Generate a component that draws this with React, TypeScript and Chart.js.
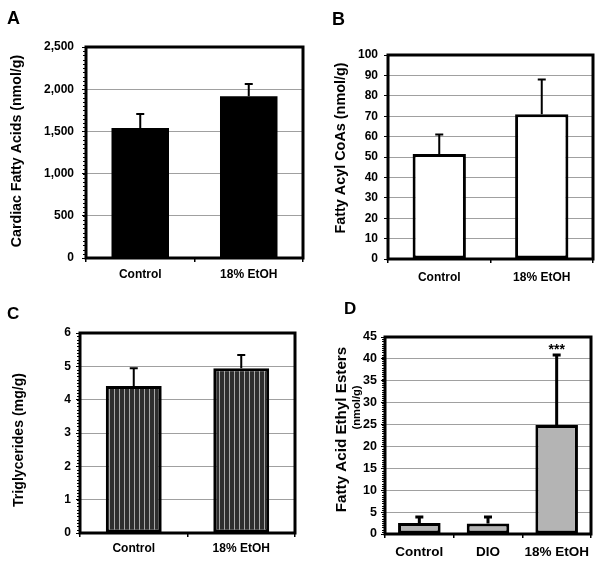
import React, { useEffect, useRef } from 'react';
import { Chart, registerables } from 'chart.js';

Chart.register(...registerables);

const FONT = '"Liberation Sans", Arial, Helvetica, sans-serif';

// ---- data ----
const groupsTwo = ['Control', '18% EtOH'];
const groupsThree = ['Control', 'DIO', '18% EtOH'];

const fattyAcids = [1540, 1915];
const fattyAcidsErr = [166, 147];

const acylCoAs = [51.5, 71];
const acylCoAsErr = [9.5, 17];

const triglycerides = [4.41, 4.94];
const triglyceridesErr = [0.53, 0.4];

const ethylEsters = [2.5, 2.4, 24.9];
const ethylEstersErr = [1.4, 1.5, 16];

const W = 600;
const H = 566;

type Title = { text: string; x: number; y: number; size: number };

type Panel = {
  letter: string;
  letterX: number;
  letterY: number;
  letterSize: number;
  labels: string[];
  values: number[];
  errors: number[];
  fill: 'black' | 'white' | 'stripes' | 'gray';
  box: [number, number, number, number];
  padLeft: number;
  yMax: number;
  yStep: number;
  commas: boolean;
  tickSize: number;
  catSize: number;
  yPad: number;
  xPad: number;
  catPct: number;
  titles: Title[];
  minor: boolean;
  star?: string;
  errLW: number;
};

const panels: Panel[] = [
  {
    letter: 'A', letterX: 7, letterY: 9, letterSize: 18,
    labels: groupsTwo, values: fattyAcids, errors: fattyAcidsErr,
    fill: 'black', box: [86, 47, 303, 258], padLeft: 0,
    yMax: 2500, yStep: 500, commas: true, tickSize: 12, catSize: 12,
    yPad: 8, xPad: 5, catPct: 0.53,
    titles: [{ text: 'Cardiac Fatty Acids (nmol/g)', x: 20.5, y: 151, size: 14.2 }],
    minor: true, errLW: 2,
  },
  {
    letter: 'B', letterX: 332, letterY: 10, letterSize: 18,
    labels: groupsTwo, values: acylCoAs, errors: acylCoAsErr,
    fill: 'white', box: [388, 55, 593, 259], padLeft: 300,
    yMax: 100, yStep: 10, commas: false, tickSize: 12, catSize: 12,
    yPad: 6, xPad: 7, catPct: 0.52,
    titles: [{ text: 'Fatty Acyl CoAs (nmol/g)', x: 345, y: 148, size: 14.4 }],
    minor: false, errLW: 2,
  },
  {
    letter: 'C', letterX: 7, letterY: 305, letterSize: 17,
    labels: groupsTwo, values: triglycerides, errors: triglyceridesErr,
    fill: 'stripes', box: [80, 333, 295, 533], padLeft: 0,
    yMax: 6, yStep: 1, commas: false, tickSize: 12, catSize: 12,
    yPad: 5, xPad: 4, catPct: 0.52,
    titles: [{ text: 'Triglycerides (mg/g)', x: 22.5, y: 440, size: 14.1 }],
    minor: true, errLW: 2,
  },
  {
    letter: 'D', letterX: 344, letterY: 300, letterSize: 17,
    labels: groupsThree, values: ethylEsters, errors: ethylEstersErr,
    fill: 'gray', box: [385, 337, 591, 534], padLeft: 300,
    yMax: 45, yStep: 5, commas: false, tickSize: 12.5, catSize: 13.5,
    yPad: 4, xPad: 6, catPct: 0.62,
    titles: [
      { text: 'Fatty Acid Ethyl Esters', x: 346, y: 429.5, size: 15.2 },
      { text: '(nmol/g)', x: 360, y: 407.5, size: 11.2 },
    ],
    minor: true, star: '***', errLW: 3,
  },
];

function stripePattern(ctx: CanvasRenderingContext2D): CanvasPattern | string {
  const c = document.createElement('canvas');
  c.width = 5;
  c.height = 4;
  const g = c.getContext('2d');
  if (!g) return '#333';
  g.fillStyle = '#2e2e2e';
  g.fillRect(0, 0, 5, 4);
  g.fillStyle = '#a8a8a8';
  g.fillRect(4, 0, 1, 4);
  return ctx.createPattern(c, 'repeat') || '#333';
}

const decor = {
  id: 'decor',
  afterDatasetsDraw(chart: any, _args: any, opts: any) {
    const ctx: CanvasRenderingContext2D = chart.ctx;
    const meta = chart.getDatasetMeta(0);
    const y = chart.scales.y;
    const vals: number[] = chart.data.datasets[0].data;
    ctx.save();
    ctx.strokeStyle = '#000';
    ctx.lineWidth = opts.errLW;
    (opts.errors as number[]).forEach((e, i) => {
      const bar = meta.data[i];
      const y0 = y.getPixelForValue(vals[i]);
      const y1 = y.getPixelForValue(vals[i] + e);
      ctx.beginPath();
      ctx.moveTo(bar.x, y0);
      ctx.lineTo(bar.x, y1);
      ctx.moveTo(bar.x - 4, y1);
      ctx.lineTo(bar.x + 4, y1);
      ctx.stroke();
      if (opts.star && i === vals.length - 1) {
        ctx.fillStyle = '#000';
        ctx.font = `bold 14px ${FONT}`;
        ctx.textAlign = 'center';
        ctx.textBaseline = 'alphabetic';
        ctx.fillText(opts.star, bar.x, y1 - 1);
      }
    });
    ctx.restore();
  },
  afterDraw(chart: any, _args: any, opts: any) {
    const ctx: CanvasRenderingContext2D = chart.ctx;
    const { left, top, right, bottom } = chart.chartArea;
    ctx.save();
    // minor ticks on the y axis
    if (opts.minor) {
      const y = chart.scales.y;
      ctx.strokeStyle = '#000';
      ctx.lineWidth = 1;
      const sub = opts.step / 10;
      for (let v = 0; v <= opts.max + 1e-9; v += sub) {
        const py = Math.round(y.getPixelForValue(v)) + 0.5;
        ctx.beginPath();
        ctx.moveTo(left - 3, py);
        ctx.lineTo(left, py);
        ctx.stroke();
      }
    }
    // plot frame
    ctx.strokeStyle = '#000';
    ctx.lineWidth = 3;
    ctx.strokeRect(left, top, right - left, bottom - top);
    // rotated axis titles
    ctx.fillStyle = '#000';
    (opts.titles as Title[]).forEach((t) => {
      ctx.save();
      ctx.translate(t.x, t.y);
      ctx.rotate(-Math.PI / 2);
      ctx.font = `bold ${t.size}px ${FONT}`;
      ctx.textAlign = 'center';
      ctx.textBaseline = 'alphabetic';
      ctx.fillText(t.text, 0, 0);
      ctx.restore();
    });
    ctx.restore();
  },
};

function PanelChart({ p }: { p: Panel }) {
  const ref = useRef<HTMLCanvasElement | null>(null);
  useEffect(() => {
    const canvas = ref.current;
    if (!canvas) return;
    const ctx = canvas.getContext('2d');
    if (!ctx) return;
    const [l, t, r, b] = p.box;
    const xH = 30;
    let bg: any = '#000';
    if (p.fill === 'white') bg = '#ffffff';
    if (p.fill === 'gray') bg = '#b4b4b4';
    if (p.fill === 'stripes') bg = stripePattern(ctx);
    const chart = new Chart(ctx, {
      type: 'bar',
      data: {
        labels: p.labels,
        datasets: [
          {
            data: p.values,
            backgroundColor: bg,
            borderColor: '#000',
            borderWidth: p.fill === 'black' ? 0 : 3,
            borderSkipped: false,
            barPercentage: 1,
            categoryPercentage: p.catPct,
          },
        ],
      },
      options: {
        responsive: false,
        animation: false,
        devicePixelRatio: 1,
        events: [],
        layout: {
          padding: { left: p.padLeft, top: t, right: W - r, bottom: H - b - xH },
        },
        plugins: {
          legend: { display: false },
          tooltip: { enabled: false },
          title: { display: false },
          decor: {
            errors: p.errors,
            errLW: p.errLW,
            star: p.star,
            minor: p.minor,
            step: p.yStep,
            max: p.yMax,
            titles: p.titles,
          },
        } as any,
        scales: {
          x: {
            offset: true,
            border: { display: false },
            grid: {
              offset: true,
              drawOnChartArea: false,
              drawTicks: true,
              tickLength: 4,
              tickColor: '#000',
              lineWidth: 1.5,
            },
            ticks: {
              color: '#000',
              padding: p.xPad,
              maxRotation: 0,
              font: { family: FONT, size: p.catSize, weight: 'bold' },
            },
            afterFit: (s: any) => {
              s.height = xH;
            },
          },
          y: {
            min: 0,
            max: p.yMax,
            border: { display: false },
            grid: {
              color: '#a0a0a0',
              lineWidth: 1,
              tickLength: 4,
              tickColor: '#000',
            },
            ticks: {
              stepSize: p.yStep,
              color: '#000',
              padding: p.yPad,
              font: { family: FONT, size: p.tickSize, weight: 'bold' },
              callback: (v: any) =>
                p.commas ? Number(v).toLocaleString('en-US') : String(v),
            },
            afterFit: (s: any) => {
              s.width = l - p.padLeft;
            },
          },
        },
      } as any,
      plugins: [decor as any],
    });
    return () => chart.destroy();
  }, [p]);
  return (
    <canvas
      ref={ref}
      width={W}
      height={H}
      style={{ position: 'absolute', left: 0, top: 0, width: W, height: H }}
    />
  );
}

export default function App() {
  return (
    <div
      style={{
        position: 'absolute',
        left: 0,
        top: 0,
        width: W,
        height: H,
        background: '#fff',
        overflow: 'hidden',
      }}
    >
      {panels.map((p) => (
        <PanelChart key={p.letter} p={p} />
      ))}
      {panels.map((p) => (
        <div
          key={'L' + p.letter}
          style={{
            position: 'absolute',
            left: p.letterX,
            top: p.letterY,
            fontFamily: FONT,
            fontWeight: 'bold',
            fontSize: p.letterSize,
            lineHeight: 1,
            color: '#000',
          }}
        >
          {p.letter}
        </div>
      ))}
    </div>
  );
}
